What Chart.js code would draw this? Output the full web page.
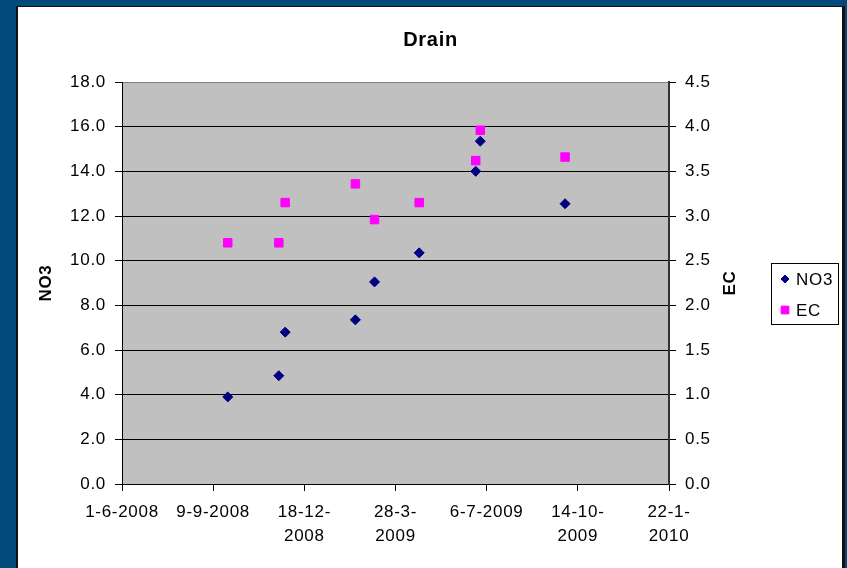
<!DOCTYPE html>
<html>
<head>
<meta charset="utf-8">
<title>Drain</title>
<script src="https://cdn.jsdelivr.net/npm/chart.js@4.4.1/dist/chart.umd.min.js"></script>
<style>
  html, body { margin: 0; padding: 0; }
  body { width: 847px; height: 568px; background: #004a7c; position: relative; overflow: hidden; }
  #frame {
    position: absolute; left: 16px; top: 6px; width: 824px; height: 580px;
    background: #fff; border-left: 2px solid #111; border-top: 1px solid #111; border-right: 3px solid #111;
  }
  #chart { position: absolute; left: 0; top: 0; }
</style>
</head>
<body>
<div id="frame"></div>
<canvas id="chart" width="847" height="568"></canvas>
<script>
// --- DATA ---
const sampleDates = ['25-9-2008', '20-11-2008', '27-11-2008', '12-2-2009', '5-3-2009',
                     '23-4-2009', '24-6-2009', '29-6-2009', '30-9-2009'];
const no3Values = [3.9, 4.85, 6.8, 7.35, 9.05, 10.35, 14.0, 15.35, 12.55];
const ecValues = [2.70, 2.70, 3.15, 3.36, 2.96, 3.15, 3.62, 3.96, 3.66];

const xTickDates = ['1-6-2008', '9-9-2008', '18-12-2008', '28-3-2009', '6-7-2009', '14-10-2009', '22-1-2010'];
const xTickLabels = ['1-6-2008', '9-9-2008', ['18-12-', '2008'], ['28-3-', '2009'], '6-7-2009', ['14-10-', '2009'], ['22-1-', '2010']];
const no3Ticks = [0, 2, 4, 6, 8, 10, 12, 14, 16, 18];
const ecTicks = [0, 0.5, 1, 1.5, 2, 2.5, 3, 3.5, 4, 4.5];

const FONT = "'Liberation Sans', Arial, sans-serif";

// d-m-yyyy -> day number
function dayNum(s) {
    const [d, m, y] = s.split('-').map(Number);
    return Date.UTC(y, m - 1, d) / 86400000;
}

const xTickValues = xTickDates.map(dayNum);
const no3Points = sampleDates.map((d, i) => ({ x: dayNum(d), y: no3Values[i] }));
const ecPoints = sampleDates.map((d, i) => ({ x: dayNum(d), y: ecValues[i] }));

// grey plot area, right axis title and boxed legend
const drainDecor = {
    id: 'drainDecor',
    beforeDraw(chart) {
        const { ctx, chartArea: a } = chart;
        // the old office fonts run a little wide
        ctx.letterSpacing = '0.7px';
        ctx.save();
        ctx.fillStyle = '#c0c0c0';
        ctx.fillRect(a.left, a.top, a.right - a.left, a.bottom - a.top);
        ctx.restore();
    },
    afterDraw(chart) {
        const { ctx, chartArea: a } = chart;
        ctx.save();
        // EC title, reading upward like the left one
        ctx.fillStyle = '#000';
        ctx.font = 'bold 17px ' + FONT;
        ctx.textAlign = 'center';
        ctx.textBaseline = 'middle';
        ctx.translate(730, (a.top + a.bottom) / 2);
        ctx.rotate(-Math.PI / 2);
        ctx.fillText('EC', 0, 0);
        ctx.restore();

        // legend
        ctx.save();
        const bx = 771, by = 263, bw = 67, bh = 61;
        ctx.fillStyle = '#fff';
        ctx.fillRect(bx, by, bw, bh);
        ctx.strokeStyle = '#000';
        ctx.lineWidth = 1;
        ctx.strokeRect(bx + 0.5, by + 0.5, bw, bh);
        ctx.font = '17px ' + FONT;
        ctx.textAlign = 'left';
        ctx.textBaseline = 'middle';
        chart.data.datasets.forEach((ds, i) => {
            const y = by + 16 + i * 31;
            ctx.fillStyle = ds.backgroundColor;
            ctx.strokeStyle = ds.borderColor;
            ctx.lineWidth = 1;
            Chart.helpers.drawPoint(ctx, {
                pointStyle: ds.pointStyle,
                radius: ds.legendRadius,
                borderWidth: 1,
                rotation: 0
            }, bx + 14, y);
            ctx.fillStyle = '#000';
            ctx.fillText(ds.label, bx + 25, y + 1);
        });
        ctx.restore();
    }
};

new Chart(document.getElementById('chart'), {
    type: 'scatter',
    data: {
        datasets: [{
            label: 'NO3',
            data: no3Points,
            yAxisID: 'y',
            pointStyle: 'rectRot',
            pointRadius: 5,
            legendRadius: 4,
            backgroundColor: '#000080',
            borderColor: '#000080',
            borderWidth: 1
        }, {
            label: 'EC',
            data: ecPoints,
            yAxisID: 'y1',
            pointStyle: 'rect',
            pointRadius: 6,
            legendRadius: 5.5,
            backgroundColor: '#ff00ff',
            borderColor: '#ff00ff',
            borderWidth: 1
        }]
    },
    options: {
        responsive: false,
        animation: false,
        devicePixelRatio: 1,
        layout: { padding: { left: 14, right: 0, top: 0, bottom: 20 } },
        plugins: {
            legend: { display: false },
            tooltip: { enabled: false },
            title: {
                display: true,
                text: 'Drain',
                color: '#000',
                font: { family: FONT, size: 20, weight: 'bold' },
                padding: { top: 28, bottom: 30 }
            }
        },
        scales: {
            x: {
                type: 'linear',
                min: xTickValues[0],
                max: xTickValues[xTickValues.length - 1],
                afterBuildTicks: s => { s.ticks = xTickValues.map(v => ({ value: v })); },
                afterFit: s => { s.height = 64; },
                grid: { drawOnChartArea: false, drawTicks: true, tickLength: 7, tickColor: '#000' },
                border: { display: true, color: '#000', width: 1 },
                ticks: {
                    color: '#000',
                    padding: 9,
                    maxRotation: 0,
                    autoSkip: false,
                    font: { family: FONT, size: 17, lineHeight: 1.42 },
                    callback: (v, i) => xTickLabels[i]
                }
            },
            y: {
                position: 'left',
                min: 0,
                max: 18,
                afterBuildTicks: s => { s.ticks = no3Ticks.map(v => ({ value: v })); },
                afterFit: s => { s.width = 108; },
                grid: {
                    color: c => (c.tick && c.tick.value === 18 ? '#808080' : '#000'),
                    lineWidth: 1,
                    drawTicks: true,
                    tickLength: 7,
                    tickColor: '#000'
                },
                border: { display: true, color: '#000', width: 1 },
                ticks: {
                    color: '#000',
                    padding: 9,
                    font: { family: FONT, size: 17 },
                    callback: v => v.toFixed(1)
                },
                title: {
                    display: true,
                    text: 'NO3',
                    color: '#000',
                    font: { family: FONT, size: 17, weight: 'bold' },
                    padding: { top: 21.8, bottom: 0 }
                }
            },
            y1: {
                position: 'right',
                min: 0,
                max: 4.5,
                afterBuildTicks: s => { s.ticks = ecTicks.map(v => ({ value: v })); },
                afterFit: s => { s.width = 178; },
                grid: { drawOnChartArea: false, drawTicks: true, tickLength: 7, tickColor: '#000' },
                border: { display: true, color: '#333', width: 2 },
                ticks: {
                    color: '#000',
                    padding: 9,
                    font: { family: FONT, size: 17 },
                    callback: v => v.toFixed(1)
                }
            }
        }
    },
    plugins: [drainDecor]
});
</script>
</body>
</html>
